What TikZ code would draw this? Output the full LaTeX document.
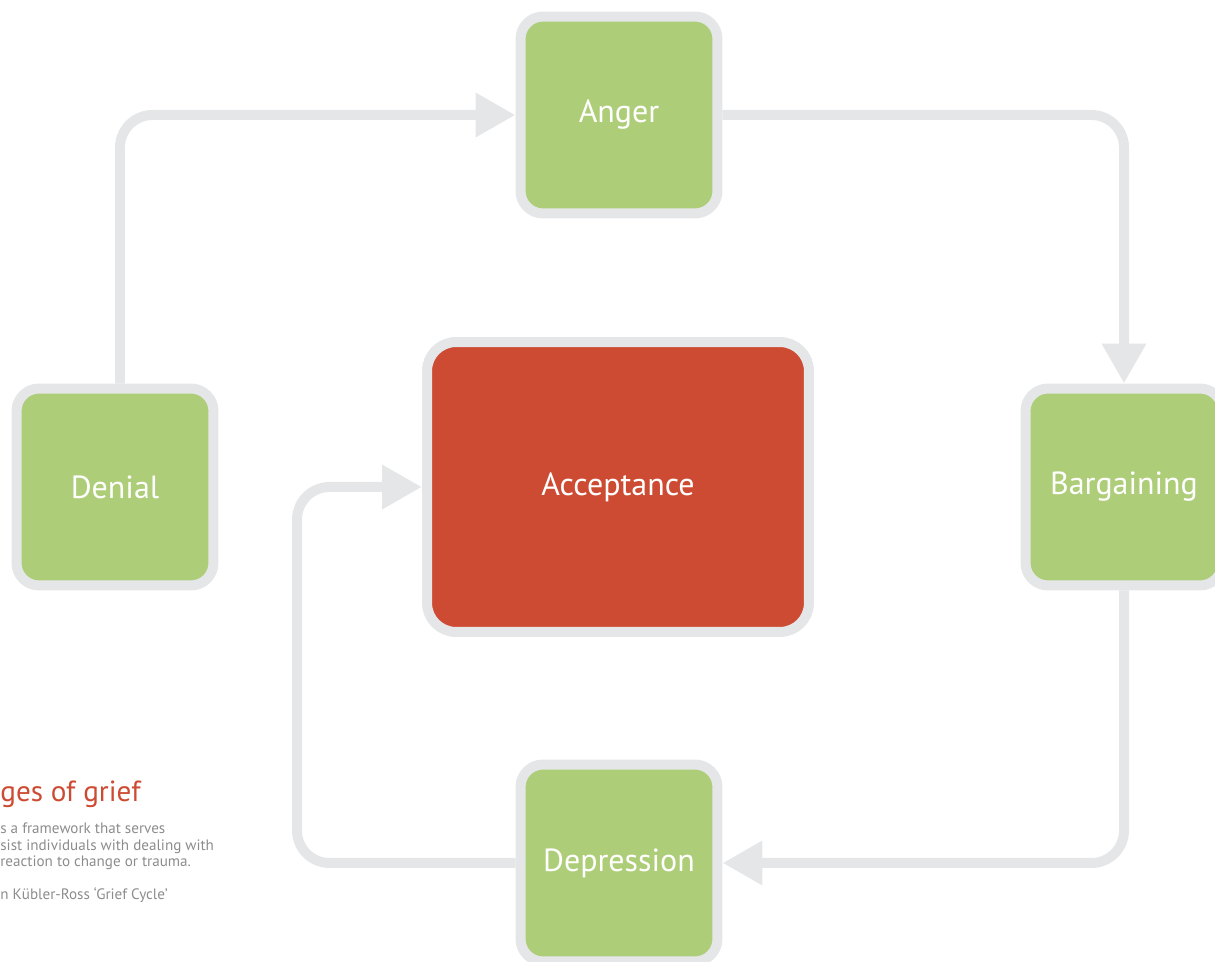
\documentclass[tikz,border=0pt]{standalone}
\usepackage{fontspec}
\setmainfont{PT Sans}
\usetikzlibrary{arrows.meta}

\definecolor{stagegreen}{RGB}{174,205,121}
\definecolor{acceptred}{RGB}{205,75,50}
\definecolor{ringgray}{RGB}{229,230,232}
\definecolor{blurbgray}{RGB}{140,140,140}

\tikzset{%
  every stage/.style={
    draw=ringgray,
    line width=0.2cm,
    fill=stagegreen,
    rounded corners=0.45cm,
    minimum width=3.94cm,
    minimum height=3.94cm,
    text=white,
    font=\fontsize{18.2}{21}\selectfont
  },
  stage acceptance/.style={
    fill=acceptred,
    rounded corners=0.58cm,
    minimum width=7.64cm,
    minimum height=5.8cm
  },
  flow/.style={
    draw=ringgray,
    line width=0.2cm,
    rounded corners=0.65cm
  },
  blurb/.style={
    anchor=base west,
    inner sep=0,
    text=blurbgray,
    font=\fontsize{8.6}{10}\selectfont
  },
}

\begin{document}
\begin{tikzpicture}[x=0.02cm, y=-0.02cm, >={Triangle[length=0.8cm,width=0.84cm]}]
\useasboundingbox (0,0) rectangle (1215,962);

\foreach \m/\l/\x/\y in {denial/Denial/115/487, anger/Anger/619/115,
    bargaining/Bargaining/1124/487, depression/Depression/619/863}
  \node [every stage/.try, stage \m/.try] (\m) at (\x,\y) {\l};

\node [every stage/.try, stage acceptance/.try] (acceptance) at (618,487) {Acceptance};

\coordinate (turn) at (297,487);

\draw [flow, ->] ([xshift=0.1cm]denial.north) |- (anger.west);
\draw [flow, ->] (anger.east) -| (bargaining.north);
\draw [flow, ->] (bargaining.south) |- (depression.east);
\draw [flow, ->] (depression.west) -| (turn) -- (acceptance.west);

% caption, cut at the left edge
\node [anchor=base west, inner sep=0, text=acceptred, font=\fontsize{16.6}{20}\selectfont]
  (title) at (0,802) {ges of grief};

\foreach \l [count=\i] in {s a framework that serves,
    sist individuals with dealing with, reaction to change or trauma.}
  \node [blurb] (blurb-\i) at (0,817.5+\i*16.5) {\l};

\node [blurb] (credit) at (0,900) {n Kübler-Ross ‘Grief Cycle’};

\end{tikzpicture}
\end{document}
